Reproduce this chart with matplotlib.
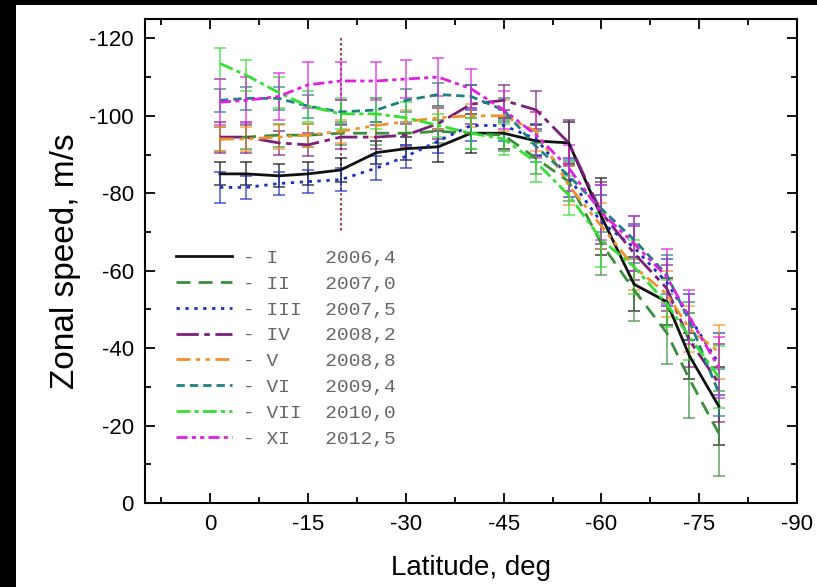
import matplotlib
matplotlib.use('Agg')
import numpy as np
from matplotlib import pyplot as plt
from matplotlib.patches import Rectangle
from matplotlib.ticker import MultipleLocator

plt.rcParams['axes.unicode_minus'] = False

# latitude grid (deg)
lat = [-1.5, -5.5, -10.5, -15, -20, -25.5, -30, -35, -40, -45, -50, -55, -60, -65, -70, -73.5, -78]

# zonal speed, m/s
v_I = [-85, -85, -84.5, -85, -86, -90.5, -91.5, -92, -95.5, -95.5, -93.5, -93, -74, -56.5, -52, -38, -25]
v_II = [-94, -94.5, -95, -95, -95.5, -95.5, -95.5, -96, -95.5, -95, -89, -83, -67, -55, -44, -32, -18]
v_III = [-81.5, -81.5, -82.5, -83, -83.5, -86.5, -89.5, -93.5, -97.5, -97.5, -94, -84, -72.5, -66, -57, -48, -36]
v_IV = [-94.5, -94.5, -93, -92.5, -94.5, -94.5, -95, -98, -103, -104, -101.5, -93, -75, -64.5, -55.5, -42, -31]
v_V = [-94, -94, -94.5, -95, -96, -97.5, -98.5, -99.5, -100, -100, -96, -82, -71.5, -61, -54, -45, -39]
v_VI = [-104, -104.5, -104.5, -102.5, -101, -101.5, -104, -105.5, -105, -101.5, -92, -84.5, -76, -68, -59, -47, -28.5]
v_VII = [-113.5, -110.5, -106, -102.5, -100.5, -100.5, -99.5, -97.5, -95.5, -94, -88, -79.5, -68, -61, -51.5, -43, -32.5]
v_XI = [-103.5, -104, -105, -108, -109, -109, -109.5, -110, -107, -101.5, -95, -86.5, -75, -67, -58.5, -48, -35]

e_I = [3, 3, 3, 3, 3, 3, 3, 4, 5, 4, 4, 5.5, 10, 7, 6, 6, 10]
e_II = [3, 3, 3, 3, 3, 3, 3, 3, 4, 4, 4, 5, 8, 8, 8, 10, 11]
e_III = [4, 3, 3, 3, 3, 3, 3, 3, 4, 4, 4, 5, 7, 6, 6, 6, 8]
e_IV = [4, 4, 3, 3, 3, 3, 3, 4, 5, 4, 5, 6, 8, 7, 6, 7, 10]
e_V = [3, 3, 3, 3, 3, 3, 3, 3, 3, 4, 5, 5, 6, 6, 6, 6, 7]
e_VI = [3, 3, 3, 3, 3, 3, 3, 3, 3, 3, 4, 4, 6, 6, 5, 5, 6]
e_VII = [4, 4, 4, 4, 4, 4, 4, 3, 4, 4, 5, 5, 7, 7, 6, 6, 8]
e_XI = [6, 6, 6, 6, 5, 5, 5, 5, 5, 5, 6, 6, 7, 7, 7, 7, 8]

names = ['I', 'II', 'III', 'IV', 'V', 'VI', 'VII', 'XI']
years = ['2006,4', '2007,0', '2007,5', '2008,2', '2008,8', '2009,4', '2010,0', '2012,5']
speeds = [v_I, v_II, v_III, v_IV, v_V, v_VI, v_VII, v_XI]
errors = [e_I, e_II, e_III, e_IV, e_V, e_VI, e_VII, e_XI]

colors = ['#111111', '#3a8f3a', '#1c2fc4', '#7b1f7b', '#f0922b', '#1f8080', '#33e033', '#e020e0']
styles = ['-', (0, (5, 3)), (0, (1.2, 2)), (0, (8, 2, 2, 2)),
          (0, (5, 2, 1.5, 2, 1.5, 2)), (0, (3, 1.8)), (0, (5, 1.5, 1.5, 1.5)),
          (0, (4, 1.5, 1.5, 1.5, 1.5, 1.5))]

# vertical marker line
mark_lat = -20
mark_range = [-120, -70]

fig = plt.figure(figsize=(8.17, 5.87), dpi=100, facecolor='white')
ax = fig.add_axes([145 / 817, 1 - 503 / 587, 652 / 817, 484 / 587])

for nm, yr, v, e, c, ls in zip(names, years, speeds, errors, colors, styles):
    ax.errorbar(lat, v, yerr=e, fmt='none', ecolor=c, alpha=0.8,
                elinewidth=1.1, capsize=4.5, capthick=1.1, zorder=2)
    ax.plot(lat, v, color=c, linestyle=ls, linewidth=2.0, zorder=3,
            label='- ' + nm.ljust(5) + yr)

ax.plot([mark_lat, mark_lat], mark_range, color='#8b2020', linestyle=(0, (1.5, 1.5)),
        linewidth=1.2, zorder=1)

ax.set_xlim(10, -90)
ax.set_ylim(0, -125)
ax.xaxis.set_major_locator(MultipleLocator(15))
ax.xaxis.set_minor_locator(MultipleLocator(7.5))
ax.yaxis.set_major_locator(MultipleLocator(20))
ax.yaxis.set_minor_locator(MultipleLocator(10))
ax.tick_params(which='both', direction='in', top=True, right=True, width=1.3)
ax.tick_params(which='major', length=7, labelsize=16, pad=8)
ax.tick_params(which='minor', length=4)
for lbl in ax.get_xticklabels() + ax.get_yticklabels():
    lbl.set_family('Liberation Sans')
for s in ax.spines.values():
    s.set_linewidth(1.5)

ax.set_xlabel('Latitude, deg', fontsize=20, family='Liberation Sans', labelpad=14)
ax.set_ylabel('Zonal speed, m/s', fontsize=24, family='Liberation Sans', labelpad=6)

leg = ax.legend(loc='upper left', bbox_to_anchor=(0.02, 0.56), frameon=False,
                handlelength=2.9, handletextpad=0.55, labelspacing=0.42,
                prop={'family': 'Liberation Mono', 'size': 14})
for t in leg.get_texts():
    t.set_color('#666666')

# black strips at top and left edge of the original image
fig.add_artist(Rectangle((0, 1 - 5 / 587), 1, 5 / 587, transform=fig.transFigure,
                         facecolor='black', edgecolor='none', zorder=10))
fig.add_artist(Rectangle((0, 0), 16 / 817, 1, transform=fig.transFigure,
                         facecolor='black', edgecolor='none', zorder=10))

fig.savefig('out.png', dpi=100, facecolor='white')
